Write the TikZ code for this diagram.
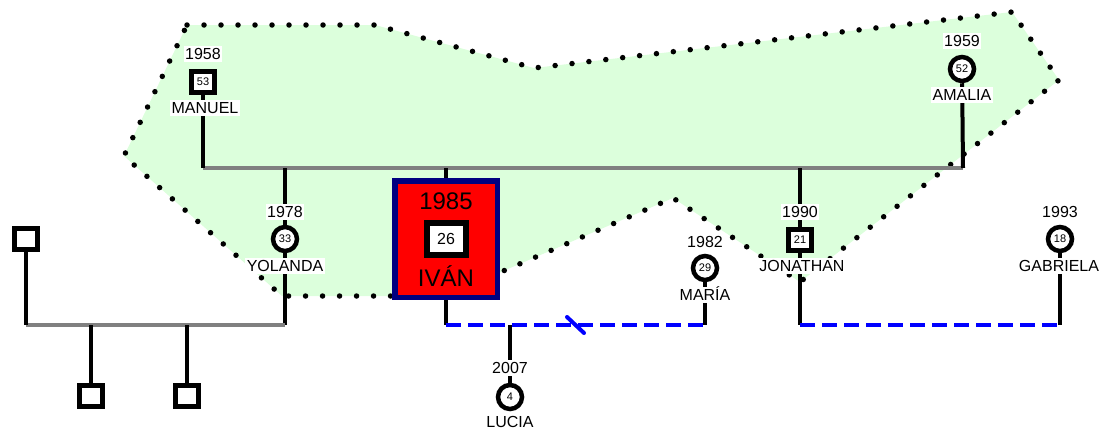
\documentclass[tikz,border=0pt]{standalone}
\usepackage{fontspec}
\setmainfont{Liberation Sans}
\usetikzlibrary{backgrounds}
\definecolor{famgreen}{RGB}{220,255,220}
\definecolor{navyb}{RGB}{0,0,128}
\definecolor{linkblue}{RGB}{0,0,255}
\definecolor{relgray}{RGB}{128,128,128}
\begin{document}
\begin{tikzpicture}[x=1pt,y=-1pt,
  sym/.style={draw, line width=4.5pt, fill=white, inner sep=0pt, font=\fontsize{11}{11}\selectfont},
  male/.style={sym, rectangle, minimum width=23pt, minimum height=21pt},
  female/.style={sym, circle, minimum size=24pt},
  txt/.style={fill=white, inner sep=1.5pt, text height=11.5pt, text depth=1pt, font=\fontsize{16}{16}\selectfont},
  ln/.style={line width=4pt},
  rel/.style={line width=4pt, draw=relgray},
  sepline/.style={line width=3.5pt, draw=linkblue, dash pattern=on 15pt off 7pt},
  hull/.style={draw=black, line width=5.5pt, line cap=round, dash pattern=on 0pt off 17pt},
]
\useasboundingbox (0,0) rectangle (1105,431);

% ---- nodes ----
% Manuel
\node[txt] (manY) at (203,54) {1958};
\node[male] (manuel) at (203,82) {53};
\node[txt] (manN) at (205,108) {MANUEL};
% Amalia
\node[txt] (amaY) at (962,41) {1959};
\node[female] (amalia) at (962,69) {52};
\node[txt] (amaN) at (962,95) {AMALIA};
% Yolanda
\node[txt] (yolY) at (285,212) {1978};
\node[female] (yolanda) at (285,239) {33};
\node[txt] (yolN) at (285,266) {YOLANDA};
% Ivan
\node[draw=navyb, fill=red, line width=5.5pt, minimum width=102.5pt, minimum height=116.5pt, inner sep=0pt] (ivanbox) at (446,239) {};
\node[anchor=base, inner sep=0pt, font=\fontsize{24}{24}\selectfont] (ivaY) at (446,209) {1985};
\node[male, line width=6pt, minimum width=39pt, minimum height=32pt, font=\fontsize{16}{16}\selectfont] (ivan) at (446,239) {26};
\node[anchor=base, inner sep=0pt, font=\fontsize{24}{24}\selectfont] (ivaN) at (446,286) {IVÁN};
% Maria
\node[txt] (marY) at (705,242) {1982};
\node[female] (maria) at (705,268) {29};
\node[txt] (marN) at (705,295) {MARÍA};
% Jonathan
\node[txt] (jonY) at (800,212) {1990};
\node[male] (jonathan) at (800,240) {21};
\node[txt] (jonN) at (802,266) {JONATHAN};
% Gabriela
\node[txt] (gabY) at (1060,212) {1993};
\node[female] (gabriela) at (1060,239) {18};
\node[txt] (gabN) at (1059,266) {GABRIELA};
% Lucia
\node[txt] (lucY) at (510,368) {2007};
\node[female] (lucia) at (510,397) {4};
\node[txt] (lucN) at (510,422) {LUCIA};
% unknown relatives
\node[male] (ul) at (26,239) {};
\node[male] (k1) at (91,396) {};
\node[male] (k2) at (187,396) {};

% junction coordinates
\coordinate (manJ) at (203,168);
\coordinate (amaJ) at (963,168);
\coordinate (yolJ) at (285,168);
\coordinate (ivaJ) at (446,168);
\coordinate (jonJ) at (800,168);
\coordinate (yolB) at (285,325);
\coordinate (ulJ) at (26,325);
\coordinate (k1J) at (91,325);
\coordinate (k2J) at (187,325);
\coordinate (ivaB) at (446,325);
\coordinate (marB) at (705,325);
\coordinate (lucJ) at (510,325);
\coordinate (jonB) at (800,325);
\coordinate (gabB) at (1060,325);
\coordinate (sepmark) at (575.5,325);

\begin{scope}[on background layer]
  % family hull
  \fill[famgreen] (187,25) -- (375,25) -- (534,68) -- (1012,12) -- (1059,80) -- (800,282) -- (673,198) -- (445,296) -- (282,296) -- (124,156) -- cycle;
  \draw[hull] (187,25) -- (375,25) -- (534,68) -- (1012,12) -- (1059,80) -- (800,282) -- (673,198) -- (445,296) -- (282,296) -- (124,156) -- cycle;
  % parents
  \draw[rel] (manJ) -- (amaJ);
  \draw[ln] (manuel) -- (manJ);
  \draw[ln] (amalia) -- (amaJ);
  % children of Manuel & Amalia
  \draw[ln] (yolJ) -- (yolanda) -- (yolB);
  \draw[ln] (ivaJ) -- (ivanbox);
  \draw[ln] (jonJ) -- (jonathan) -- (jonB);
  % Yolanda's family
  \draw[rel] (ulJ) -- (yolB);
  \draw[ln] (ul) -- (ulJ);
  \draw[ln] (k1J) -- (k1);
  \draw[ln] (k2J) -- (k2);
  % Ivan & Maria
  \draw[ln] (ivanbox) -- (ivaB);
  \draw[ln] (maria) -- (marB);
  \draw[sepline] (ivaB) -- (marB);
  \draw[line width=4pt, draw=linkblue, line cap=round] ([shift={(-8.5,-8)}]sepmark) -- ([shift={(8.5,8)}]sepmark);
  \draw[ln] (lucJ) -- (lucia);
  % Jonathan & Gabriela
  \draw[ln] (gabriela) -- (gabB);
  \draw[sepline] (jonB) -- (gabB);
\end{scope}
\end{tikzpicture}
\end{document}
